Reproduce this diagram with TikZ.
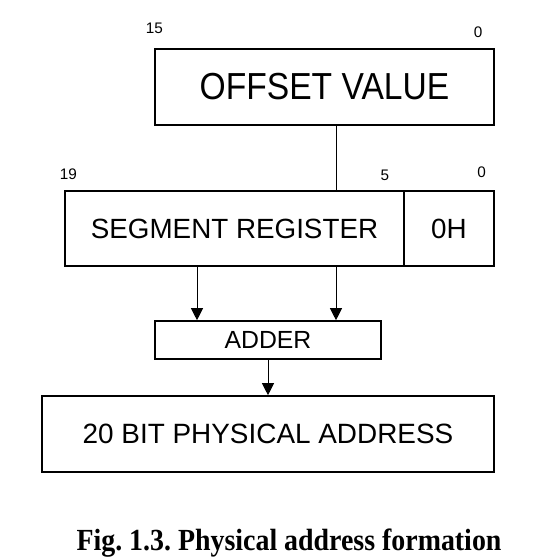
\documentclass[tikz,border=0pt]{standalone}
\usepackage{fontspec}
\setmainfont{Liberation Sans}
\newfontfamily\capfont{Liberation Serif}
\usetikzlibrary{arrows.meta}
\frenchspacing

\begin{document}
\begin{tikzpicture}[x=1pt,y=-1pt,
	reg/.style={draw, line width=1.6pt, inner sep=0pt},
	bitno/.style={inner sep=0pt, font=\fontsize{15.3}{18}\selectfont},
	feed/.style={line width=1pt, -{Triangle[length=12pt,width=12pt]}}]
	\useasboundingbox (0,0) rectangle (554,560);
	\node[reg, minimum width=339pt, minimum height=76pt, font=\fontsize{33.6}{40}\selectfont] (offset) at (324.5,87) {\scalebox{1}[1.12]{OFFSET VALUE}};
	\node[reg, minimum width=339pt, minimum height=75pt, font=\fontsize{27.8}{33}\selectfont] (seg) at (234.5,228.5) {SEGMENT REGISTER};
	\node[reg, minimum width=90pt, minimum height=75pt, font=\fontsize{27.8}{33}\selectfont] (zero) at (449,228.5) {0H};
	\node[reg, minimum width=226pt, minimum height=38pt, font=\fontsize{24.8}{30}\selectfont] (adder) at (268,340) {ADDER};
	\node[reg, minimum width=452pt, minimum height=76pt, font=\fontsize{27.9}{33}\selectfont] (phys) at (268,434) {20 BIT PHYSICAL ADDRESS};
	\node[bitno] (o15) at (154.5,28) {15};
	\node[bitno] (o0) at (478,32) {0};
	\node[bitno] (s19) at (68.5,174.5) {19};
	\node[bitno] (s5) at (385,175.5) {5};
	\node[bitno] (s0) at (481.5,172.5) {0};
	\node[anchor=base, inner sep=0pt, font=\capfont\bfseries\fontsize{27.9}{33}\selectfont] (caption) at (289,550) {\scalebox{1}[1.1]{Fig. 1.3. Physical address formation}};
	\coordinate (tapA) at (197,300);
	\coordinate (tapB) at (336,300);
	\draw [line width=1pt] (offset.south -| tapB) -- (seg.north -| tapB);
	\draw [feed] (seg.south -| tapA) -- (adder.north -| tapA);
	\draw [feed] (seg.south -| tapB) -- (adder.north -| tapB);
	\draw [feed] (adder.south) -- (phys.north);
\end{tikzpicture}
\end{document}
